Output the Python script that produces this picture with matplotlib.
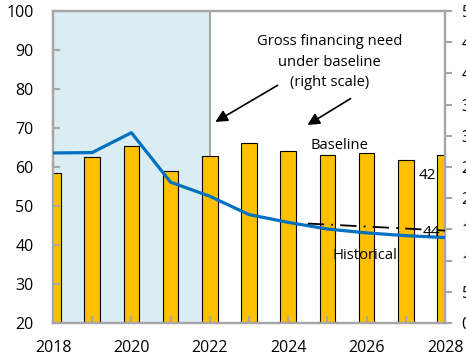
import matplotlib
matplotlib.use("Agg")
import matplotlib.pyplot as plt
import numpy as np

plt.rcParams['font.family'] = ['Open Sans', 'DejaVu Sans']

years = [2018, 2019, 2020, 2021, 2022, 2023, 2024, 2025, 2026, 2027, 2028]
gross_financing = [24.0, 26.6, 28.4, 24.3, 26.7, 28.8, 27.6, 26.9, 27.3, 26.1, 27.0]
baseline_debt = [63.6, 63.7, 68.8, 56.1, 52.5, 47.8, 45.8, 44.1, 43.1, 42.4, 41.9]
hist_years = [2024.5, 2028]
hist_debt = [45.5, 43.7]
left_ticks = list(range(20, 101, 10))
right_ticks = list(range(0, 51, 5))
xlabel_years = [2018, 2020, 2022, 2024, 2026, 2028]

GRAY = '#a6a6a6'
fig = plt.figure(figsize=(4.66, 3.6), dpi=100)
ax = fig.add_axes([53/466, 1-323/360, (445-53)/466, (323-11)/360])
ax2 = ax.twinx()
ax.set_zorder(ax2.get_zorder() + 1)
ax.patch.set_visible(False)

# shading and bars on right axis
ax2.axvspan(2018, 2022, color='#daedf3', zorder=0, lw=0)
ax2.axvline(2022, color=GRAY, lw=1.5, zorder=0.5)
ax2.bar(years, gross_financing, width=0.4, color='#ffc000', edgecolor='black', linewidth=0.8, zorder=2)
ax2.set_ylim(0, 50)
ax2.set_yticks(right_ticks)
ax2.tick_params(axis='y', direction='out', length=5, width=1.5, color=GRAY, pad=7, labelsize=11.5)

# lines on left axis
ax.plot(years, baseline_debt, color='#0070c0', lw=2.3, zorder=3)
ax.plot(hist_years, hist_debt, color='black', lw=1.3, dashes=[9, 4, 1, 4], zorder=4)
ax.set_xlim(2018, 2028)
ax.set_ylim(20, 100)
ax.set_yticks(left_ticks)
ax.set_xticks(xlabel_years)
ax.set_xticks(years, minor=True)
ax.tick_params(axis='y', direction='in', length=5, width=1.5, color=GRAY, pad=14, labelsize=11.5)
ax.tick_params(axis='x', which='both', direction='in', length=5, width=1.5, color=GRAY, pad=12, labelsize=11.5)

for a in (ax, ax2):
    for s in a.spines.values():
        s.set_color(GRAY)
        s.set_linewidth(1.6)

# annotations
ax.text(2025.05, 86.9, 'Gross financing need\nunder baseline\n(right scale)', ha='center', va='center',
        fontsize=10.6, linespacing=1.5, zorder=5)
ax.annotate('', xy=(2022.08, 71.2), xytext=(2023.79, 81.3),
            arrowprops=dict(arrowstyle='-|>', color='black', lw=1.2, mutation_scale=18))
ax.annotate('', xy=(2024.43, 70.4), xytext=(2025.65, 77.9),
            arrowprops=dict(arrowstyle='-|>', color='black', lw=1.2, mutation_scale=18))
ax.text(2025.30, 65.6, 'Baseline', ha='center', va='center', fontsize=10.6, zorder=5)
ax.text(2025.96, 37.2, 'Historical', ha='center', va='center', fontsize=10.6, zorder=5)
ax.text(2027.55, 57.8, '42', ha='center', va='center', fontsize=11, zorder=5)
ax.text(2027.66, 43.2, '44', ha='center', va='center', fontsize=11, zorder=5)

fig.savefig('out.png', dpi=100)
